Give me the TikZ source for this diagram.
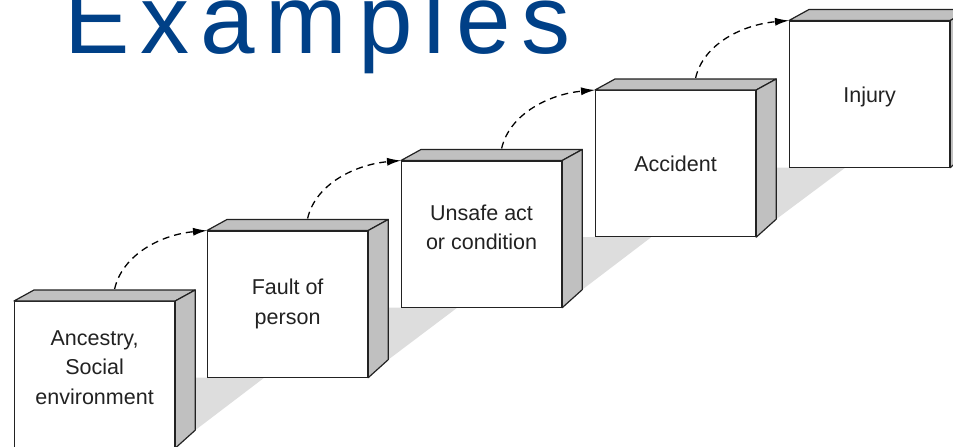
\documentclass[tikz,border=0pt]{standalone}
\usepackage{fontspec}
\setmainfont{Liberation Sans}
\newfontfamily\titlefont[LetterSpace=11]{Liberation Sans}
\usetikzlibrary{arrows.meta,calc,backgrounds}

\definecolor{titleblue}{RGB}{0,64,135}
\definecolor{facegray}{RGB}{192,192,192}
\definecolor{shadowgray}{RGB}{221,221,221}
\definecolor{inkgray}{RGB}{34,34,34}

\tikzset{
  front/.style={draw=inkgray, line width=1.2pt, fill=white, anchor=north west,
    minimum width=160pt, minimum height=146pt, inner sep=0pt},
  boxtext/.style={align=center, inner sep=0pt,
    font=\fontsize{21.5}{29.5}\selectfont, text=inkgray},
  face/.style={draw=inkgray, line width=1.2pt, fill=facegray, line join=round},
  flow/.style={draw=black, line width=1.3pt, dash pattern=on 7pt off 5pt,
    -{Latex[length=14pt,width=8pt]}},
  floor/.style={fill=shadowgray},
}

% draws the top and right faces of a box whose front face is node #1
\newcommand\boxfaces[1]{%
  \filldraw[face] (#1.north west) -- ++(20,-11) -- ($(#1.north east)+(20,-11)$)
    -- (#1.north east) -- cycle;
  \filldraw[face] (#1.north east) -- ($(#1.north east)+(20,-11)$)
    -- ($(#1.south east)+(20,-18)$) -- (#1.south east) -- cycle;
}

% floor shadow cast between box #1 and the next box #2
\newcommand\floorshadow[2]{%
  \path let \p1 = ($(#1.south east)+(20,-18)$), \p2 = (#2.south) in
    [floor] (\x1,\y1) -- (\x1,\y2) -- (\x1+69pt,\y2) -- cycle;
}

\begin{document}
\begin{tikzpicture}[x=1pt,y=-1pt]
\clip (0,0) rectangle (953,447);

\node[anchor=base west, inner sep=0pt, text=titleblue,
  font=\titlefont\fontsize{98}{98}\selectfont] (title) at (64.5,53) {Examples};

\node[front] (b1) at (14,301) {};
\node[front] (b2) at (207,230.5) {};
\node[front] (b3) at (401,160.5) {};
\node[front] (b4) at (595,90) {};
\node[front] (b5) at (789,20.5) {};

\node[boxtext] (t1) at ($(b1.center)+(0,-7)$) {Ancestry,\\Social\\environment};
\node[boxtext] (t2) at (b2.center) {Fault of\\person};
\node[boxtext] (t3) at ($(b3.center)+(0,-7)$) {Unsafe act\\or condition};
\node[boxtext] (t4) at (b4.center) {Accident};
\node[boxtext] (t5) at ($(b5.center)+(0,3)$) {Injury};

\foreach \b in {b1,b2,b3,b4,b5} {\boxfaces{\b}}

\begin{scope}[on background layer]
  \floorshadow{b1}{b2}
  \floorshadow{b2}{b3}
  \floorshadow{b3}{b4}
  \floorshadow{b4}{b5}
\end{scope}

\draw[flow] ($(b1.north)+(20,-12)$) .. controls +(8,-35) and +(-45,4) .. (b2.north west);
\draw[flow] ($(b2.north)+(20,-12)$) .. controls +(8,-35) and +(-45,4) .. (b3.north west);
\draw[flow] ($(b3.north)+(20,-12)$) .. controls +(8,-35) and +(-45,4) .. (b4.north west);
\draw[flow] ($(b4.north)+(20,-12)$) .. controls +(8,-35) and +(-45,4) .. (b5.north west);
\end{tikzpicture}
\end{document}
